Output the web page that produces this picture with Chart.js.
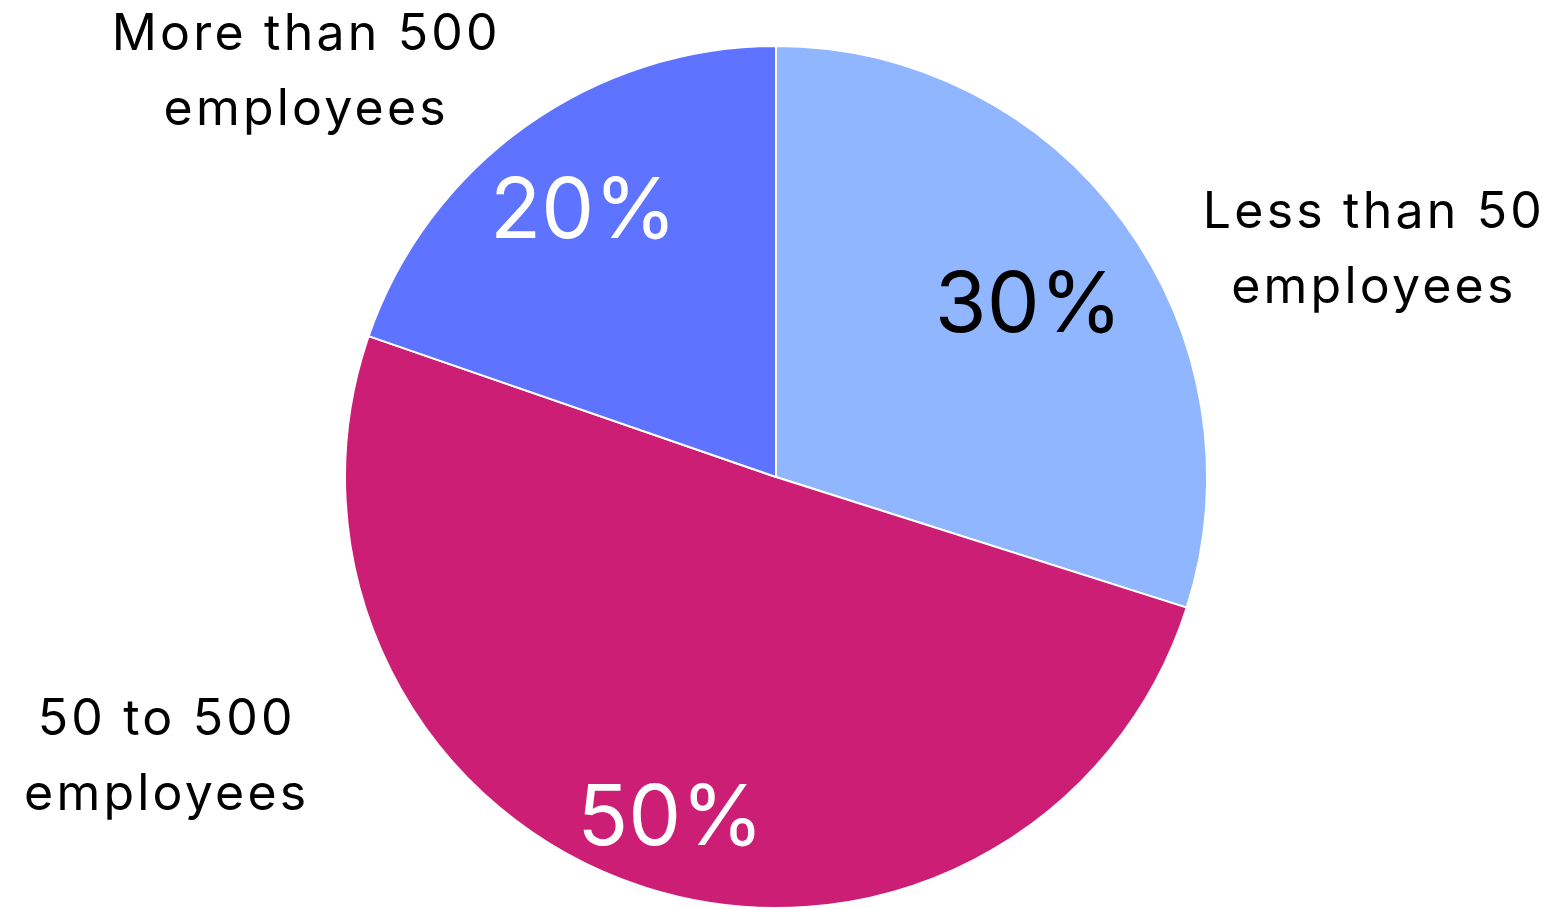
<!DOCTYPE html>
<html>
<head>
<meta charset="utf-8">
<script src="https://cdn.jsdelivr.net/npm/chart.js@4/dist/chart.umd.min.js"></script>
<style>
  html, body { margin: 0; padding: 0; background: #ffffff; }
  #wrap { width: 1552px; height: 909px; }
</style>
</head>
<body>
<div id="wrap"><canvas id="myCanvas"></canvas></div>
<script>
var labels = ['Less than 50 employees', '50 to 500 employees', 'More than 500 employees'];
var values = [29.9, 50.4, 19.7];
var percentLabels = ['30%', '50%', '20%'];
var nameLines = [['Less than 50', 'employees'], ['50 to 500', 'employees'], ['More than 500', 'employees']];
var colors = ['#8fb6fe', '#cc1e74', '#5e73ff'];
var percentColors = ['#000000', '#ffffff', '#ffffff'];

// where each text sits, as (angle from 12 o'clock in degrees, fraction of the radius)
var percentPos = [[55.95, 0.707], [197.1, 0.833], [323.9, 0.759]];
var namePos = [[70.5, 1.468], [244.2, 1.574], [309.6, 1.419]];

var FONT = 'Inter, "Open Sans", sans-serif';

function polar(cx, cy, r, deg) {
    var a = deg * Math.PI / 180;
    return { x: cx + r * Math.sin(a), y: cy - r * Math.cos(a) };
}

var pieText = {
    id: 'pieText',
    afterDatasetsDraw: function(chart) {
        var ctx = chart.ctx;
        var arcs = chart.getDatasetMeta(0).data;
        ctx.save();
        ctx.textAlign = 'center';
        for (var i = 0; i < arcs.length; i++) {
            var arc = arcs[i];
            var p = polar(arc.x, arc.y, arc.outerRadius * percentPos[i][1], percentPos[i][0]);
            ctx.fillStyle = percentColors[i];
            ctx.font = '400 84px ' + FONT;
            ctx.letterSpacing = '0px';
            ctx.textBaseline = 'middle';
            ctx.fillText(percentLabels[i], p.x, p.y);

            // names: anchor is halfway between the two baselines
            var q = polar(arc.x, arc.y, arc.outerRadius * namePos[i][1], namePos[i][0]);
            ctx.fillStyle = '#000000';
            ctx.font = '400 50px ' + FONT;
            ctx.letterSpacing = '3.2px';
            ctx.textBaseline = 'alphabetic';
            var lh = 75;
            var n = nameLines[i].length;
            for (var j = 0; j < n; j++) {
                ctx.fillText(nameLines[i][j], q.x + 1.5, q.y + (j - (n - 1) / 2) * lh);
            }
        }
        ctx.restore();
    }
};

var ctx = document.getElementById('myCanvas').getContext('2d');
var chart = new Chart(ctx, {
    type: 'pie',
    data: {
        labels: labels,
        datasets: [{
            data: values,
            backgroundColor: colors,
            borderColor: '#ffffff',
            borderWidth: 2
        }]
    },
    options: {
        responsive: true,
        maintainAspectRatio: false,
        animation: false,
        layout: { padding: { top: 45, bottom: 0 } },
        plugins: {
            legend: { display: false },
            tooltip: { enabled: false }
        }
    },
    plugins: [pieText]
});
</script>
</body>
</html>
